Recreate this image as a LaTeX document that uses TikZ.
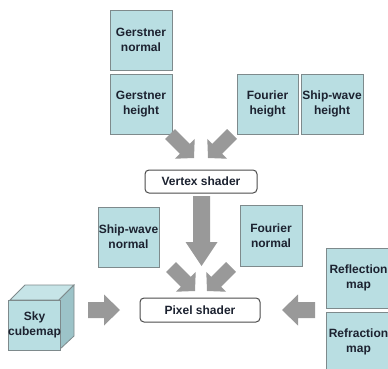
\documentclass[tikz,border=0pt]{standalone}
\usepackage{fontspec}
\setmainfont{Liberation Sans}
\usetikzlibrary{calc}
\definecolor{boxfill}{HTML}{B9DEE2}
\definecolor{boxline}{HTML}{7E8A8C}
\definecolor{arrfill}{HTML}{999999}
\definecolor{txt}{HTML}{1C2230}
\definecolor{cubeside}{HTML}{9CC3C8}
\definecolor{cubetop}{HTML}{C6E4E7}
\tikzset{
  mapbox/.style={draw=boxline, fill=boxfill, line width=0.8pt, align=center,
    text=txt, font=\fontsize{12}{15}\selectfont\bfseries, inner sep=0pt},
  shaderbox/.style={draw=black!70, fill=white, rounded corners=4pt, line width=1pt,
    text=txt, font=\fontsize{12}{14}\selectfont\bfseries, inner sep=0pt},
  arrfillstyle/.style={fill=arrfill},
}
\newcommand\blkarr[5]{%
  \coordinate (ba-h) at ($(#2)!#5!(#1)$);
  \fill[arrfillstyle] ($(#1)!#3!90:(#2)$) -- ($(ba-h)!#3!-90:(#1)$) -- ($(ba-h)!#4!-90:(#1)$)
    -- (#2) -- ($(ba-h)!#4!90:(#1)$) -- ($(ba-h)!#3!90:(#1)$) -- ($(#1)!#3!-90:(#2)$) -- cycle;}
\begin{document}
\begin{tikzpicture}[x=1pt,y=-1pt]
\fill[white] (0,0) rectangle (388,369);
\useasboundingbox (0,0) rectangle (388,369);
\clip (0,0) rectangle (388,369);

% map boxes
\node[mapbox, minimum width=62pt, minimum height=60pt] (gn) at (141,40) {Gerstner\\normal};
\node[mapbox, minimum width=62pt, minimum height=60pt] (gh) at (141,104) {Gerstner\\height};
\node[mapbox, minimum width=61pt, minimum height=60pt] (fh) at (267.5,104) {Fourier\\height};
\node[mapbox, minimum width=62pt, minimum height=60pt] (sh) at (332,104) {Ship-wave\\height};
\node[mapbox, minimum width=61pt, minimum height=60pt] (swn) at (128.5,237) {Ship-wave\\normal};
\node[mapbox, minimum width=62pt, minimum height=61pt] (fn) at (271,235.5) {Fourier\\normal};
\node[mapbox, minimum width=64pt, minimum height=60pt] (refl) at (358.5,278) {Reflection\\map};
\node[mapbox, minimum width=64pt, minimum height=60pt] (refr) at (358.5,342) {Refraction\\map};

% shaders
\node[shaderbox, minimum width=112pt, minimum height=23pt] (vs) at (201,181.5) {Vertex shader};
\node[shaderbox, minimum width=120pt, minimum height=24pt] (ps) at (200,310) {Pixel shader};

% sky cubemap cube
\fill[cubetop, draw=boxline, line width=0.8pt] (10,300) -- (25,285) -- (74,285) -- (59,300) -- cycle;
\fill[cubeside, draw=boxline, line width=0.8pt] (59,300) -- (74,285) -- (74,336) -- (59,350) -- cycle;
\node[mapbox, minimum width=49pt, minimum height=50pt] (sky) at (34.5,325) {Sky\\cubemap};

% block arrows
\coordinate (t1) at (170,134); \coordinate (p1) at (194,158);
\coordinate (t2) at (232,134); \coordinate (p2) at (208,158);
\coordinate (t3) at (201.5,196); \coordinate (p3) at (201.5,266);
\coordinate (t4) at (171,267); \coordinate (p4) at (195,291);
\coordinate (t5) at (231,267); \coordinate (p5) at (207,291);
\coordinate (t6) at (88,310); \coordinate (p6) at (120,310);
\coordinate (t7) at (315,310); \coordinate (p7) at (282,310);
\blkarr{t1}{p1}{7pt}{14pt}{13pt}
\blkarr{t2}{p2}{7pt}{14pt}{13pt}
\blkarr{t3}{p3}{8.5pt}{16pt}{24pt}
\blkarr{t4}{p4}{7pt}{14pt}{13pt}
\blkarr{t5}{p5}{7pt}{14pt}{13pt}
\blkarr{t6}{p6}{8pt}{15.5pt}{16pt}
\blkarr{t7}{p7}{8pt}{15.5pt}{16pt}
\end{tikzpicture}
\end{document}
